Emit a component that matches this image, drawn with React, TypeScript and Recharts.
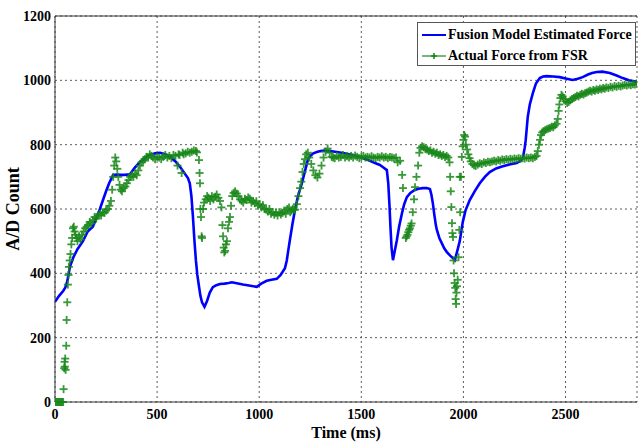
import {
  CartesianGrid,
  ComposedChart,
  Label,
  Line,
  ReferenceLine,
  Scatter,
  XAxis,
  YAxis,
} from 'recharts';

// [time ms, A/D count]
const fusionForce: [number, number][] = [
  [0, 312], [20, 330], [40, 345], [50, 355], [60, 375], [73, 420], [90, 450], [110, 475],
  [137, 500], [160, 530], [185, 545], [205, 575], [220, 600], [235, 628], [250, 655], [265, 680],
  [284, 705], [300, 707], [320, 706], [340, 706], [367, 708], [390, 728], [416, 746], [440, 758],
  [465, 768], [490, 773], [514, 775], [540, 770], [563, 762], [590, 748], [612, 731], [630, 715],
  [651, 696], [660, 680], [668, 640], [675, 580], [683, 500], [690, 440], [697, 395], [705, 360],
  [712, 330], [720, 310], [732, 296], [745, 315], [758, 340], [773, 357], [790, 363], [808, 367],
  [830, 368], [850, 370], [866, 372], [890, 369], [920, 365], [950, 362], [988, 358], [1010, 368],
  [1037, 377], [1060, 380], [1086, 383], [1105, 395], [1126, 416], [1135, 440], [1142, 470], [1150, 503],
  [1162, 550], [1175, 597], [1190, 640], [1209, 680], [1225, 720], [1238, 752], [1250, 765], [1265, 773],
  [1282, 777], [1300, 780], [1320, 782], [1346, 780], [1380, 777], [1410, 774], [1440, 770], [1478, 765],
  [1510, 758], [1542, 750], [1570, 742], [1591, 737], [1610, 728], [1625, 721], [1632, 680], [1638, 610],
  [1643, 540], [1648, 480], [1655, 441], [1664, 470], [1674, 503], [1685, 545], [1699, 587], [1710, 615],
  [1723, 637], [1740, 650], [1762, 659], [1780, 663], [1801, 665], [1820, 665], [1836, 662], [1843, 645],
  [1850, 619], [1858, 580], [1865, 550], [1870, 535], [1882, 510], [1894, 494], [1906, 478], [1919, 466],
  [1935, 455], [1948, 448], [1958, 441], [1970, 470], [1982, 500], [1997, 560], [2010, 595], [2031, 628],
  [2055, 655], [2080, 680], [2105, 700], [2129, 715], [2160, 726], [2193, 733], [2230, 739], [2261, 743],
  [2280, 750], [2291, 758], [2300, 790], [2305, 814], [2310, 850], [2315, 886], [2325, 925], [2340, 960],
  [2355, 990], [2374, 1007], [2390, 1012], [2408, 1013], [2440, 1012], [2472, 1010], [2500, 1006], [2535, 1001],
  [2560, 1005], [2584, 1010], [2610, 1018], [2630, 1023], [2653, 1026], [2680, 1027], [2717, 1023], [2750, 1015],
  [2780, 1007], [2810, 1000], [2850, 995],
];

const fsrForce: [number, number][] = [
  [0, 0], [5, 0], [10, 0], [15, 0], [20, 0], [25, 0], [30, 0], [35, 0], [40, 0],
  [42, 40], [45, 105], [47, 125], [48, 110], [50, 135], [52, 100], [55, 175], [57, 255], [60, 310],
  [63, 365], [66, 395], [68, 420], [72, 440], [76, 460], [80, 490], [84, 510], [88, 540], [92, 545],
  [96, 530], [100, 520], [105, 510], [110, 500], [118, 515], [125, 505], [132, 520], [140, 530], [148, 540],
  [155, 545], [162, 550], [170, 560], [178, 555], [186, 565], [194, 575], [202, 570], [210, 580], [218, 585],
  [226, 580], [234, 590], [242, 588], [250, 595], [258, 600], [266, 610], [274, 625], [280, 660], [285, 700],
  [290, 735], [295, 760], [300, 748], [305, 725], [310, 700], [316, 675], [322, 660], [328, 655], [336, 665],
  [344, 670], [352, 680], [360, 690], [368, 700], [376, 705], [384, 700], [392, 710], [400, 705], [408, 720],
  [416, 735], [424, 745], [432, 750], [440, 755], [448, 762], [456, 760], [464, 770], [472, 765], [480, 760],
  [490, 755], [500, 762], [510, 760], [520, 755], [530, 762], [540, 768], [550, 760], [560, 765], [570, 758],
  [580, 768], [590, 765], [600, 735], [605, 770], [610, 768], [620, 712], [625, 775], [630, 770], [640, 773],
  [650, 778], [660, 775], [670, 778], [680, 782], [690, 780], [695, 776],
  [705, 752], [708, 712], [710, 680], [712, 600], [715, 575], [718, 515], [720, 510], [725, 600], [730, 620],
  [738, 630], [745, 640], [752, 635], [760, 625], [768, 640], [776, 630], [784, 638], [792, 645], [800, 635],
  [808, 625], [815, 605], [820, 550], [823, 515], [826, 480], [829, 465], [833, 470], [837, 490], [842, 500],
  [847, 540], [852, 560], [857, 575], [862, 610], [868, 640], [875, 650], [882, 655], [890, 648], [898, 640],
  [906, 630], [914, 625], [922, 620], [930, 632], [938, 628], [946, 636], [954, 632], [962, 620], [970, 625],
  [978, 618], [986, 624], [994, 610], [1002, 615], [1010, 605], [1018, 612], [1026, 600], [1034, 598], [1042, 592],
  [1050, 600], [1058, 585], [1066, 590], [1074, 582], [1082, 588], [1090, 580], [1098, 590], [1106, 583], [1114, 588],
  [1122, 595], [1130, 585], [1138, 600], [1146, 605], [1152, 590], [1158, 595], [1164, 600], [1170, 598], [1176, 598],
  [1184, 615], [1192, 640], [1200, 665], [1206, 685], [1212, 715], [1218, 740], [1224, 755], [1230, 770], [1238, 775],
  [1245, 760], [1255, 740], [1265, 720], [1275, 705], [1285, 698], [1295, 710], [1305, 735], [1315, 760], [1325, 778],
  [1335, 788], [1345, 775], [1355, 762], [1362, 760], [1370, 758], [1380, 765], [1390, 760], [1400, 762], [1410, 768],
  [1420, 760], [1430, 764], [1440, 760], [1450, 765], [1460, 760], [1470, 766], [1480, 762], [1490, 758], [1500, 762],
  [1510, 765], [1520, 760], [1530, 762], [1540, 760], [1550, 764], [1560, 760], [1570, 758], [1580, 762], [1590, 760],
  [1600, 764], [1610, 760], [1620, 762], [1630, 758], [1640, 762], [1650, 760], [1660, 758], [1670, 760], [1678, 745],
  [1690, 750], [1700, 706], [1704, 665], [1718, 510], [1722, 515], [1726, 520], [1730, 528], [1734, 535], [1738, 540],
  [1742, 548], [1746, 555], [1752, 590], [1758, 630], [1763, 668], [1770, 700], [1778, 735], [1784, 775], [1790, 790],
  [1798, 795], [1806, 792], [1814, 786], [1822, 785], [1830, 780], [1838, 782], [1846, 775], [1854, 778], [1862, 772],
  [1870, 775], [1878, 768], [1886, 770], [1894, 765], [1902, 768], [1910, 762], [1918, 765], [1926, 760], [1932, 745],
  [1935, 700], [1938, 655], [1941, 606], [1944, 556], [1946, 525], [1949, 513], [1952, 440], [1954, 400], [1957, 370],
  [1960, 355], [1962, 320], [1964, 305], [1966, 340], [1968, 360], [1972, 380], [1976, 450], [1980, 535], [1982, 700],
  [1984, 590], [1988, 700], [1992, 762], [1996, 795], [2000, 815], [2004, 830], [2008, 825], [2012, 800], [2018, 785],
  [2024, 770], [2030, 758], [2036, 748], [2044, 740], [2052, 736], [2060, 734], [2070, 738], [2080, 742], [2090, 740],
  [2100, 745], [2110, 743], [2120, 747], [2130, 745], [2140, 748], [2150, 750], [2160, 748], [2170, 752], [2180, 750],
  [2190, 754], [2200, 752], [2210, 755], [2220, 753], [2230, 756], [2240, 754], [2250, 757], [2260, 755], [2270, 758],
  [2280, 756], [2290, 758], [2300, 757], [2310, 760], [2320, 758], [2330, 760], [2340, 758], [2350, 762], [2358, 765],
  [2364, 780], [2370, 800], [2375, 815], [2380, 830], [2386, 838], [2392, 842], [2400, 845], [2408, 848], [2416, 850],
  [2424, 852], [2432, 856], [2440, 854], [2448, 860], [2456, 865], [2462, 880], [2466, 905], [2470, 925], [2475, 945],
  [2480, 955], [2486, 950], [2492, 942], [2500, 935], [2508, 930], [2516, 933], [2524, 938], [2532, 942], [2540, 945],
  [2548, 948], [2556, 952], [2564, 950], [2572, 955], [2580, 958], [2588, 956], [2596, 960], [2604, 962], [2612, 965],
  [2620, 968], [2628, 965], [2636, 970], [2644, 968], [2652, 972], [2660, 970], [2668, 974], [2676, 972], [2684, 976],
  [2692, 974], [2700, 978], [2710, 976], [2720, 980], [2730, 978], [2740, 982], [2750, 980], [2760, 983], [2770, 981],
  [2780, 984], [2790, 986], [2800, 984], [2810, 987], [2820, 985], [2830, 988], [2840, 987], [2850, 990],
];

const xTicks = [0, 500, 1000, 1500, 2000, 2500];
const yTicks = [0, 200, 400, 600, 800, 1000, 1200];

const BLUE = '#0000ff';
const GREEN = '#188818';
const serif = '"Liberation Serif", "Times New Roman", serif';

const fusionData = fusionForce.map(([t, v]) => ({ t, v }));
const fsrData = fsrForce.map(([t, v]) => ({ t, v }));

function PlusMark(props: any) {
  const { cx, cy } = props;
  if (cx == null || cy == null) return null;
  return (
    <g stroke={GREEN} strokeWidth={1.8} opacity={0.85}>
      <line x1={cx - 4} y1={cy} x2={cx + 4} y2={cy} />
      <line x1={cx} y1={cy - 4} x2={cx} y2={cy + 4} />
    </g>
  );
}

function LegendBox() {
  const row = { display: 'flex', alignItems: 'center', height: 21 };
  const text = { fontFamily: serif, fontWeight: 700, fontSize: 14, color: '#000', marginLeft: 2, whiteSpace: 'nowrap' as const };
  return (
    <div
      style={{
        position: 'absolute', left: 417, top: 22, width: 219, height: 44,
        border: '1px solid #555', background: '#fff', padding: '1px 0 0 3px', boxSizing: 'border-box',
      }}
    >
      <div style={row}>
        <svg width={25} height={10}>
          <line x1={1} y1={5} x2={25} y2={5} stroke={BLUE} strokeWidth={2} />
        </svg>
        <span style={text}>Fusion Model Estimated Force</span>
      </div>
      <div style={row}>
        <svg width={25} height={10}>
          <line x1={1} y1={5} x2={25} y2={5} stroke={GREEN} strokeWidth={1.2} />
          <line x1={10} y1={5} x2={16} y2={5} stroke={GREEN} strokeWidth={1.6} />
          <line x1={13} y1={2} x2={13} y2={8} stroke={GREEN} strokeWidth={1.6} />
        </svg>
        <span style={text}>Actual Force from FSR</span>
      </div>
    </div>
  );
}

export default function App() {
  const tick = { fontFamily: serif, fontWeight: 700, fontSize: 14, fill: '#000' };
  return (
    <div style={{ position: 'absolute', left: 0, top: 0, width: 638, height: 445, background: '#fff' }}>
      <ComposedChart width={638} height={445} margin={{ top: 16, right: 1, bottom: 0, left: 0 }}>
        <CartesianGrid stroke="#333" strokeDasharray="2 3" strokeWidth={0.8} />
        <XAxis
          dataKey="t"
          type="number"
          domain={[0, 2850]}
          ticks={xTicks}
          allowDataOverflow
          height={43}
          tickLine={false}
          tickSize={0}
          tickMargin={7}
          axisLine={{ stroke: '#333' }}
          tick={tick}
        >
          <Label value="Time (ms)" position="insideBottom" offset={7} style={{ fontFamily: serif, fontWeight: 700, fontSize: 16, fill: '#000' }} />
        </XAxis>
        <YAxis
          dataKey="v"
          type="number"
          domain={[0, 1200]}
          ticks={yTicks}
          width={55}
          tickLine={false}
          tickSize={0}
          tickMargin={4}
          axisLine={{ stroke: '#333' }}
          tick={tick}
        >
          <Label
            value="A/D Count"
            angle={-90}
            position="insideLeft"
            offset={13}
            style={{ textAnchor: 'middle', fontFamily: serif, fontWeight: 700, fontSize: 18, fill: '#000' }}
          />
        </YAxis>
        <ReferenceLine y={1200} stroke="#333" />
        <Line
          data={fusionData}
          dataKey="v"
          type="linear"
          stroke={BLUE}
          strokeWidth={2.6}
          dot={false}
          isAnimationActive={false}
          legendType="none"
        />
        <Scatter data={fsrData} dataKey="v" shape={PlusMark} isAnimationActive={false} legendType="none" />
      </ComposedChart>
      <LegendBox />
    </div>
  );
}
